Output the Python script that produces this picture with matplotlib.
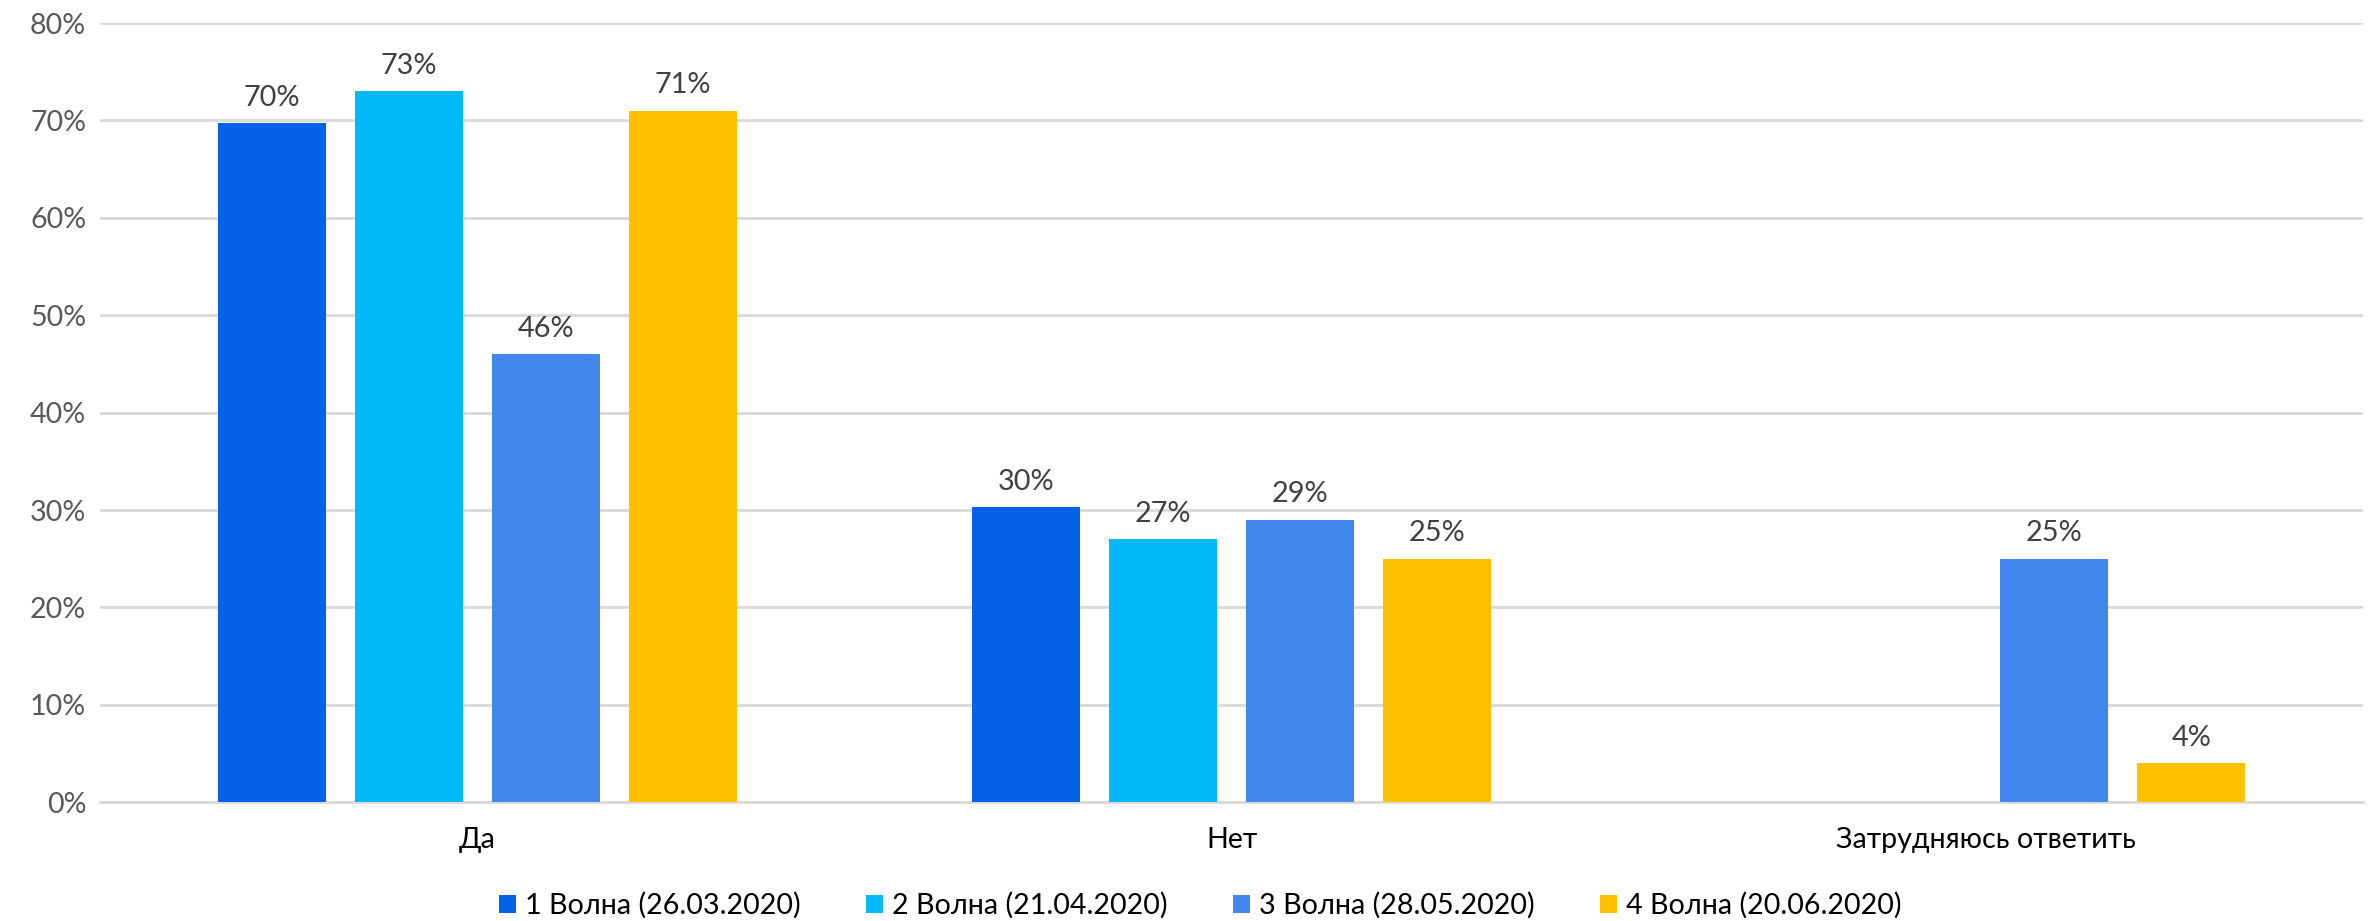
import matplotlib
matplotlib.use("Agg")
import matplotlib.pyplot as plt
import numpy as np

categories = ["Да", "Нет", "Затрудняюсь ответить"]
series_names = ["1 Волна (26.03.2020)", "2 Волна (21.04.2020)",
                "3 Волна (28.05.2020)", "4 Волна (20.06.2020)"]
wave1 = [69.7, 30.3, np.nan]
wave2 = [73, 27, np.nan]
wave3 = [46, 29, 25]
wave4 = [71, 25, 4]
colors = ["#0563E8", "#02BAF7", "#4287EC", "#FFC000"]
yticks = [0, 10, 20, 30, 40, 50, 60, 70, 80]

plt.rcParams['font.family'] = ['Lato', 'DejaVu Sans']

fig = plt.figure(figsize=(23.72, 9.21), dpi=100)
ax = fig.add_axes([0.0422, 0.129, 0.954, 0.846])

series = [wave1, wave2, wave3, wave4]
x = np.arange(len(categories))
step = 0.1817
width = 0.143
for i, (vals, c, name) in enumerate(zip(series, colors, series_names)):
    pos = x + (i - 1.5) * step
    v = np.array(vals, dtype=float)
    ax.bar(pos, np.nan_to_num(v), width=width, color=c, label=name, zorder=3)
    for p, val in zip(pos, v):
        if np.isnan(val):
            continue
        ax.annotate(f"{val:.0f}%", (p, val), xytext=(0, 9), textcoords="offset points",
                    ha="center", va="bottom", fontsize=20.8, color="#404040")

ax.set_xlim(-0.5, 2.5)
ax.set_ylim(0, 80)
ax.set_yticks(yticks)
ax.set_yticklabels([f"{t}%" for t in yticks], fontsize=20.6, color="#595959")
ax.set_xticks(x)
ax.set_xticklabels(categories, fontsize=20.6, color="#000000")
ax.tick_params(axis="both", length=0, pad=10)
ax.tick_params(axis="x", pad=18)
ax.grid(axis="y", color="#D9D9D9", linewidth=2, zorder=0)
for s in ["top", "right", "left"]:
    ax.spines[s].set_visible(False)
ax.spines["bottom"].set_color("#D9D9D9")
ax.spines["bottom"].set_linewidth(2)

fig.legend(loc="center", bbox_to_anchor=(0.506, 0.017), ncol=4, frameon=False,
           fontsize=20.6, handlelength=0.6, handleheight=0.6, columnspacing=2.3,
           handletextpad=0.3)

fig.savefig("out.png", dpi=100)
